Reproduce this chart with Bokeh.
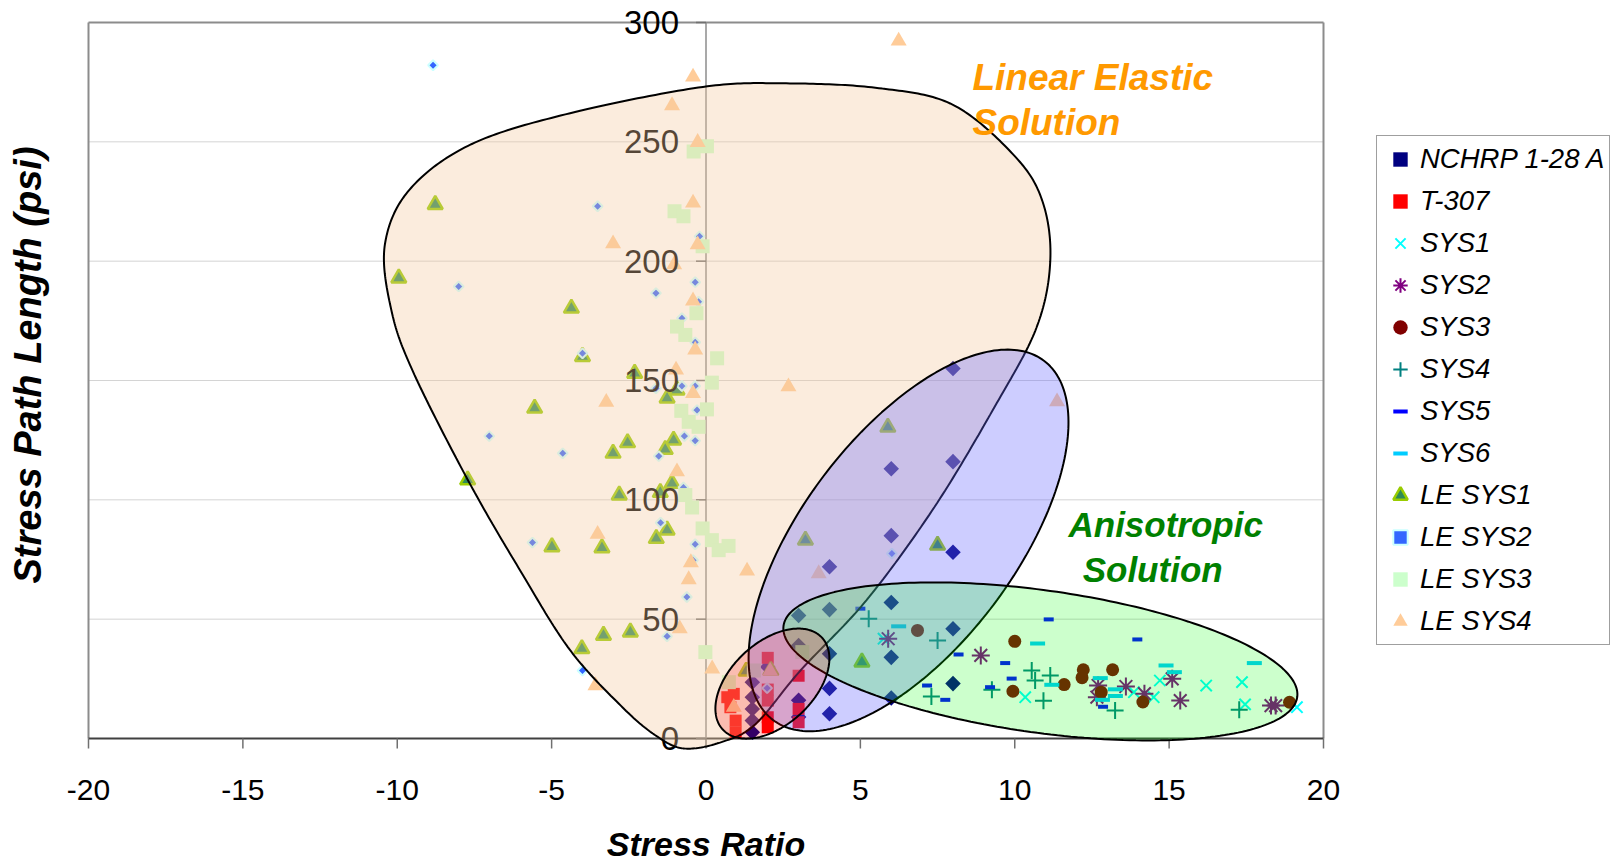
import numpy as np
from bokeh.plotting import figure
from bokeh.models import (Range1d, PolyAnnotation, Label, LabelSet,
                          ColumnDataSource, Legend, LegendItem)
from bokeh.core.properties import value
from bokeh.embed import file_html
from bokeh.resources import INLINE

# ---------------- data ----------------
x_ticks = [-20, -15, -10, -5, 0, 5, 10, 15, 20]
x_tick_labels = ["-20", "-15", "-10", "-5", "0", "5", "10", "15", "20"]
y_ticks = [0, 50, 100, 150, 200, 250, 300]
y_tick_labels = ["0", "50", "100", "150", "200", "250", "300"]

nchrp_x = [8.0, 6.0, 8.0, 6.0, 4.0, 8.0, 6.0, 4.0, 3.0, 8.0, 6.0, 4.0, 3.0, 8.0, 6.0, 4.0, 4.0, 3.0, 3.0,
           1.5, 1.5, 1.5, 1.5, 1.5, 2.0]
nchrp_y = [155, 113, 116, 85, 72, 78, 57, 54, 51.5, 46, 34, 35.5, 39, 23, 17, 21, 10.4, 16, 9,
           23.6, 17.3, 12.4, 7.5, 2.6, 30]

t307_x = [2.0, 3.0, 2.0, 2.0, 2.0, 2.0, 3.0, 3.0, 0.69, 0.9, 0.79, 0.96, 0.96]
t307_y = [33.8, 26.3, 15.9, 8.9, 4.7, 20.5, 12.4, 6.8, 17.3, 18.7, 13.1, 7.5, 2.6]

sys1_x = [5.75, 10.34, 14.5, 16.2, 17.36, 17.46, 19.14, 14.7, 13.86]
sys1_y = [41.8, 17.3, 17.3, 22.2, 23.6, 14.3, 13.1, 24.3, 19.4]

sys2_x = [5.9, 8.9, 12.7, 12.66, 13.6, 14.2, 15.1, 15.36, 18.3, 18.45]
sys2_y = [41.8, 34.8, 22.2, 17.3, 21.8, 18.8, 25.0, 15.9, 13.8, 13.8]

sys3_x = [6.85, 10.0, 9.94, 11.6, 12.22, 12.18, 13.17, 12.8, 14.15, 18.9]
sys3_y = [45.3, 40.7, 19.8, 22.6, 28.8, 25.5, 28.8, 19.4, 15.3, 15.2]

sys4_x = [5.27, 7.5, 7.3, 9.26, 10.55, 10.66, 11.15, 10.93, 13.25, 17.27]
sys4_y = [50.2, 41.1, 17.6, 20.4, 28.5, 24.3, 26.4, 15.8, 11.7, 12.0]

sys5_x = [5.0, 8.18, 9.69, 9.9, 9.2, 7.75, 7.16, 11.1, 13.97, 12.86]
sys5_y = [54.4, 35.2, 31.6, 25.1, 21.5, 16.2, 22.2, 49.9, 41.5, 13.3]

sys6_x = [6.24, 10.74, 11.2, 12.77, 13.26, 13.26, 12.84, 14.9, 15.17, 17.76]
sys6_y = [47.0, 39.8, 22.5, 25.3, 20.6, 17.8, 16.2, 30.6, 27.8, 31.6]

le1_x = [-8.77, -9.95, -4.36, -4.0, -2.31, -1.26, -0.94, -5.55, -2.54, -3.01, -1.05, -1.32, -7.72,
         -2.81, -1.48, -1.1, -4.99, -3.37, -1.61, -1.26, -4.02, -3.32, -2.45, 5.89, 3.22, 7.5, 5.05,
         2.1, 1.3]
le1_y = [223.7, 192.9, 180.3, 160, 153, 142.6, 146, 138.4, 123.9, 119.5, 125, 121.1, 108.3,
         102, 103.1, 106.9, 80.3, 79.9, 83.8, 87.3, 37.6, 43.2, 44.6, 130.4, 83.1, 81, 32,
         28.5, 28.2]

le2_x = [-8.84, -3.51, -8.01, -1.62, -0.35, -0.21, -0.24, -0.78, -0.35, -4.0, -1.62, -0.78, -0.35,
         -0.29, -7.02, -4.64, -1.53, -0.7, -0.35, -0.73, -1.47, -5.62, -0.35, -0.42, -0.62, -1.26,
         -4.0, 6.02, 1.98]
le2_y = [282.1, 223, 189.4, 186.6, 191.2, 210.4, 183, 176.1, 166, 161.4, 146.7, 147.7, 147.7,
         137.6, 126.7, 119.5, 118.3, 126.7, 124.8, 105.2, 90.4, 82.1, 81.4, 74.7, 59.3, 42.8,
         28.5, 77.5, 21.1]

le3_x = [0.03, -0.4, -1.02, -0.73, -0.11, -0.31, -0.94, -0.67, 0.36, 0.19, -0.8, 0.03, -0.56,
         -0.24, -0.67, -0.45, -0.11, 0.19, 0.41, 0.73, -0.02, 0.74, 1.55, 3.12]
le3_y = [248.1, 246, 220.9, 218.8, 206.2, 178.2, 172.6, 169.1, 159.3, 149.1, 137.3, 137.9, 132.7,
         130.6, 102, 96.8, 88, 83.1, 78.9, 80.7, 36.2, 23.6, 28.5, 36.2]

le4_x = [6.24, -0.42, -1.1, -0.27, -0.42, -3.01, -0.27, -1.03, -0.42, -0.35, -0.97, -3.23, -0.42,
         -0.94, -3.51, -0.49, -0.56, -0.85, -3.58, 0.2, 2.67, 11.37, 1.33, 3.65, 0.9, 2.08]
le4_y = [292.3, 277.2, 265.2, 249.8, 224.4, 207.3, 206.9, 198.5, 183.4, 162.8, 154.4, 140.9, 144.6,
         111.8, 85.6, 73.7, 66.6, 46, 22.2, 29.2, 147.4, 141.1, 70.2, 69.1, 13.1, 28.2]

# outline of the "Linear Elastic Solution" region (data units)
blob_x = [-0.7, 0.5, 1.6, 3.06, 5.2, 7.4, 9.35, 10.7, 11.15, 10.9, 10.0, 8.0, 5.6, 2.6, -0.1,
          -4.4, -7.6, -9.6, -10.4, -10.2, -9.5, -7.7, -6.0, -4.4, -2.7, -1.6]
blob_y = [-4.2, -1.5, 6, 28.5, 58, 97, 139, 172, 200, 225, 244, 265.5, 272.5, 274.5, 273,
          262, 249, 230, 207, 180, 154, 108, 70, 37, 13, 1]

# ---------------- geometry ----------------
W, H = 1615, 864                 # canvas
PL, PT, PW, PH = 88, 22, 1235, 716  # plot area inside canvas
XR, YR = (-20, 20), (0, 300)
PX = PW / (XR[1] - XR[0])
PY = PH / (YR[1] - YR[0])
FONT = "Liberation Sans"

x_start = XR[0] - PL / PX
x_end = XR[1] + (W - PL - PW) / PX
y_end = YR[1] + PT / PY
y_start = YR[0] - (H - PT - PH) / PY

p = figure(frame_width=W, frame_height=H, x_range=Range1d(x_start, x_end),
           y_range=Range1d(y_start, y_end), output_backend="svg", toolbar_location=None,
           x_axis_location=None, y_axis_location=None,
           min_border_left=0, min_border_right=0, min_border_top=0, min_border_bottom=0,
           background_fill_color="white", border_fill_color="white")
p.outline_line_color = None
p.grid.visible = False

# gridlines (y = 50..250)
gy = y_ticks[1:-1]
p.segment(x0=[XR[0]] * len(gy), y0=gy, x1=[XR[1]] * len(gy), y1=gy,
          line_color="#D4D4D4", line_width=1)
# plot-area border (top, left, right)
p.segment(x0=[XR[0], XR[0], XR[1]], y0=[YR[1], YR[0], YR[0]],
          x1=[XR[1], XR[0], XR[1]], y1=[YR[1], YR[1], YR[1]],
          line_color="#8C8C8C", line_width=2)
# x axis at y = 0 with ticks below
p.segment(x0=[XR[0]], y0=[0], x1=[XR[1]], y1=[0], line_color="#404040", line_width=2)
p.segment(x0=x_ticks, y0=[0] * len(x_ticks), x1=x_ticks, y1=[-10 / PY] * len(x_ticks),
          line_color="#707070", line_width=1.5)
# y axis at x = 0 with ticks to the left
p.segment(x0=[0], y0=[YR[0]], x1=[0], y1=[YR[1]], line_color="#8C8C8C", line_width=1.5)
p.segment(x0=[-10 / PX] * len(y_ticks), y0=y_ticks, x1=[0] * len(y_ticks), y1=y_ticks,
          line_color="#707070", line_width=1.5)

# ---------------- series ----------------
def sc(xs, ys, **kw):
    return p.scatter(xs, ys, **kw)

r_nchrp = sc(nchrp_x, nchrp_y, marker="square", angle=np.pi / 4, size=11,
             fill_color="#000080", line_color=None)
r_t307 = sc(t307_x, t307_y, marker="square", size=12, fill_color="#FF0000", line_color=None)
r_sys1 = sc(sys1_x, sys1_y, marker="x", size=16, line_color="#00FFFF", line_width=2)
r_sys2 = sc(sys2_x, sys2_y, marker="asterisk", size=18, line_color="#800080", line_width=2)
r_sys3 = sc(sys3_x, sys3_y, marker="circle", size=13, fill_color="#800000", line_color=None)
r_sys4 = sc(sys4_x, sys4_y, marker="cross", size=17, line_color="#008080", line_width=2)
r_sys5 = sc(sys5_x, sys5_y, marker="dash", size=10, line_color="#0000FF", line_width=4)
r_sys6 = sc(sys6_x, sys6_y, marker="dash", size=15, line_color="#00CCFF", line_width=4)
r_le1 = sc(le1_x, le1_y, marker="triangle", size=15, fill_color="#2E8B57",
           line_color="#99CC00", line_width=2.5)
r_le2 = sc(le2_x, le2_y, marker="square", angle=np.pi / 4, size=7, fill_color="#3366FF",
           line_color="#CCFFFF", line_width=2)
r_le3 = sc(le3_x, le3_y, marker="square", size=14, fill_color="#CCFFCC", line_color=None)
r_le4 = sc(le4_x, le4_y, marker="triangle", size=16, fill_color="#FFCC99", line_color=None)

# tick labels (y labels before the shaded regions so they get tinted)
ysrc = ColumnDataSource(dict(x=[0] * len(y_ticks), y=y_ticks, t=y_tick_labels))
p.add_layout(LabelSet(x="x", y="y", text="t", source=ysrc, x_offset=-27, y_offset=-11.5,
                      text_align="right", text_baseline="alphabetic",
                      text_font=value(FONT), text_font_size=value("33px"),
                      text_color="black"))
xsrc = ColumnDataSource(dict(x=x_ticks, y=[0] * len(x_ticks), t=x_tick_labels))
p.add_layout(LabelSet(x="x", y="y", text="t", source=xsrc, y_offset=-61,
                      text_align="center", text_baseline="alphabetic",
                      text_font=value(FONT), text_font_size=value("30px"),
                      text_color="black"))

# ---------------- shaded regions ----------------
def smooth_closed(xs, ys, n=24):
    P = np.column_stack([np.asarray(xs) * PX, np.asarray(ys) * PY])
    N = len(P)
    out = []
    for i in range(N):
        p0, p1, p2, p3 = P[i - 1], P[i], P[(i + 1) % N], P[(i + 2) % N]
        for t in np.linspace(0, 1, n, endpoint=False):
            out.append(0.5 * (2 * p1 + (-p0 + p2) * t + (2 * p0 - 5 * p1 + 4 * p2 - p3) * t * t
                              + (-p0 + 3 * p1 - 3 * p2 + p3) * t ** 3))
    out = np.array(out)
    return list(out[:, 0] / PX), list(out[:, 1] / PY)


def ellipse_pts(cx, cy, a, b, deg, n=240):
    t = np.linspace(0, 2 * np.pi, n, endpoint=False)
    th = np.deg2rad(deg)
    u, v = a * np.cos(t), b * np.sin(t)
    dx = u * np.cos(th) - v * np.sin(th)
    dy = u * np.sin(th) + v * np.cos(th)
    return list(cx + dx / PX), list(cy + dy / PY)


def region(xs, ys, color, alpha):
    p.add_layout(PolyAnnotation(xs=xs, ys=ys, fill_color=color, fill_alpha=alpha,
                                line_color="black", line_alpha=1.0, line_width=2))


region(*smooth_closed(blob_x, blob_y), "#F3C89D", 0.35)
region(*ellipse_pts(6.56, 83.0, 225, 106.6, 53), "#6666FF", 0.33)
region(*ellipse_pts(10.83, 32.3, 259.3, 71.2, -7.9), "#00FF00", 0.2)
region(*ellipse_pts(2.15, 23.0, 67.6, 41.3, 42.8), "#FF0000", 0.2)

# ---------------- texts ----------------
def lab(x, y, text, color, size, **kw):
    p.add_layout(Label(x=x, y=y, text=text, text_color=color, text_font=FONT,
                       text_font_size=size, text_font_style="bold italic",
                       text_baseline="alphabetic", **kw))

lab(8.63, 270.7, "Linear Elastic", "#FF9900", "37px", text_align="left", y_offset=14.5)
lab(8.63, 252.2, "Solution", "#FF9900", "37px", text_align="left", y_offset=14)
lab(11.74, 84.2, "Anisotropic", "#008000", "35px", text_align="left", y_offset=13)
lab(12.2, 65.4, "Solution", "#008000", "35px", text_align="left", y_offset=13)
lab(0, 0, "Stress Ratio", "black", "34px", text_align="center", y_offset=-105)
lab(XR[0], 156.5, "Stress Path Length (psi)", "black", "38px", text_align="center",
    angle=np.pi / 2, x_offset=-61)

# ---------------- legend ----------------
names = ["NCHRP 1-28 A", "T-307", "SYS1", "SYS2", "SYS3", "SYS4", "SYS5", "SYS6",
         "LE SYS1", "LE SYS2", "LE SYS3", "LE SYS4"]
rends = [r_nchrp, r_t307, r_sys1, r_sys2, r_sys3, r_sys4, r_sys5, r_sys6,
         r_le1, r_le2, r_le3, r_le4]
legend = Legend(items=[LegendItem(label=n, renderers=[r]) for n, r in zip(names, rends)],
                location=(1376, H - 645), orientation="vertical",
                label_text_font=FONT, label_text_font_size="27.5px",
                label_text_font_style="italic", label_text_color="black",
                glyph_height=36, glyph_width=36, label_height=32, label_standoff=2,
                spacing=6, padding=5, margin=0,
                border_line_color="#404040", border_line_width=1.5,
                background_fill_color="white", background_fill_alpha=1.0)
p.add_layout(legend)

open("out.html", "w").write(file_html(p, INLINE))
